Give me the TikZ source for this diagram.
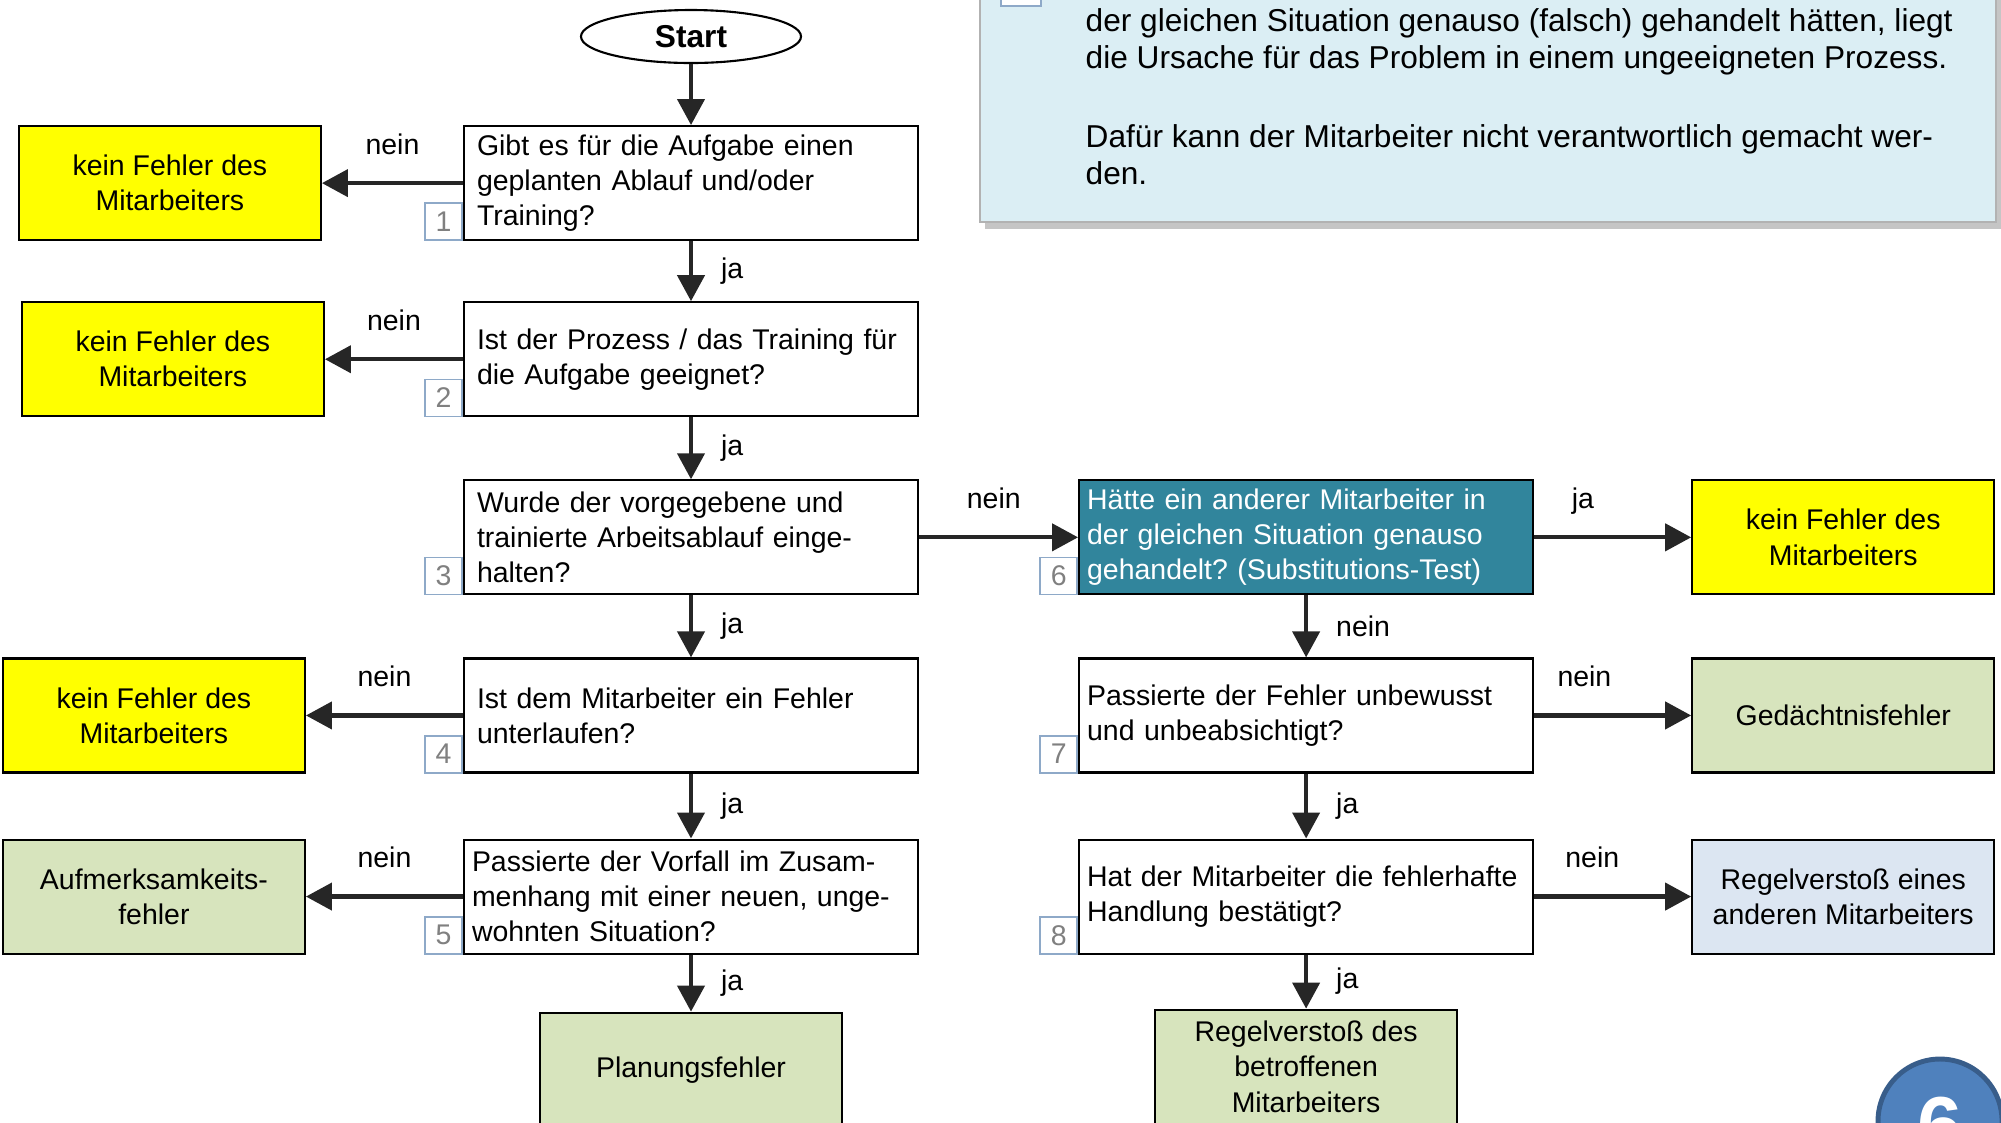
\documentclass[tikz,border=0pt]{standalone}
\usepackage{fontspec}
\setmainfont{Liberation Sans}
\usepackage{tikz}
\usetikzlibrary{shapes, arrows.meta, positioning, shadows}
\definecolor{kfyellow}{HTML}{FFFF00}
\definecolor{errgreen}{HTML}{D7E4BD}
\definecolor{errblue}{HTML}{DCE6F2}
\definecolor{subteal}{HTML}{31859C}
\definecolor{infoblue}{HTML}{DBEEF4}
\definecolor{numblue}{HTML}{8EA9C8}
\definecolor{arrgray}{HTML}{262626}
\definecolor{discblue}{HTML}{4F81BD}
\definecolor{discrim}{HTML}{385D8A}
\frenchspacing
\newcommand{\flowfont}{\fontsize{8.1}{10}\selectfont}
\tikzset{
    node distance = 0.61 cm and 1.41 cm, % gap between the questions and from a question to its result
    every node/.style = {font=\flowfont},
    startnode/.style = {ellipse, draw, line width=0.6pt, minimum width=2.2cm, minimum height=0.53cm, inner sep=0pt, font=\fontsize{9}{10}\selectfont\bfseries},
    quest/.style = {rectangle, draw, line width=0.6pt, fill=white, minimum width=4.54cm, minimum height=1.14cm, text width=4.28cm, inner xsep=0.13cm, inner ysep=0.04cm, align=left}, % the question boxes of the main column
    questb/.style = {quest, text width=4.38cm, inner xsep=0.08cm},
    result/.style = {rectangle, draw, line width=0.6pt, minimum width=3.02cm, minimum height=1.14cm, inner ysep=0.04cm, align=center},
    numbox/.style = {rectangle, draw=numblue, line width=0.5pt, fill=white, minimum size=0.37cm, inner sep=0pt, text=black!50, anchor=south east},
    flow/.style = {draw=arrgray, line width=1.2pt, -{Triangle[length=0.26cm, width=0.27cm]}},
    lblside/.style = {midway, right=0.28cm, inner sep=0pt},
    lbltop/.style = {pos=0.5, anchor=base, yshift=0.29cm, inner sep=0pt}
}
\begin{document}
\begin{tikzpicture}
    \useasboundingbox (0,0) rectangle (20.01,-11.22);
    \clip (0,0) rectangle (20.01,-11.22);
    % info box in the upper right corner
    \draw[fill=infoblue, draw=black!30, line width=0.8pt, drop shadow={shadow xshift=0.05cm, shadow yshift=-0.07cm, fill=black!45}] (9.80,0.40) rectangle (19.96,-2.22);
    \draw[draw=numblue, fill=white, line width=0.5pt] (10.01,0.40) rectangle (10.41,-0.06);
    \node[anchor=base west, align=left, inner sep=0pt, font=\fontsize{9}{10.5}\selectfont] (info) at (10.85,-1.84) {der gleichen Situation genauso (falsch) gehandelt hätten, liegt\\die Ursache für das Problem in einem ungeeigneten Prozess.\\[12pt]Dafür kann der Mitarbeiter nicht verantwortlich gemacht wer-\\den.};
    % main column
    \node[startnode] (start) at (6.91,-0.365) {Start};
    \node[quest] (q1) [below=0.61cm of start] {Gibt es für die Aufgabe einen\\geplanten Ablauf und/oder\\Training?};
    \node[quest] (q2) [below=0.60cm of q1] {Ist der Prozess / das Training für\\die Aufgabe geeignet?};
    \node[quest] (q3) [below=0.62cm of q2] {Wurde der vorgegebene und\\trainierte Arbeitsablauf einge-\\halten?};
    \node[quest] (q4) [below=0.62cm of q3] {Ist dem Mitarbeiter ein Fehler\\unterlaufen?};
    \node[questb] (q5) [below=0.65cm of q4] {Passierte der Vorfall im Zusam-\\menhang mit einer neuen, unge-\\wohnten Situation?};
    \node[result, fill=errgreen] (plan) [below=0.57cm of q5] {Planungsfehler};
    % results on the left
    \node[result, fill=kfyellow] (k1) [left=1.41cm of q1] {kein Fehler des\\Mitarbeiters};
    \node[result, fill=kfyellow] (k2) [left=1.38cm of q2] {kein Fehler des\\Mitarbeiters};
    \node[result, fill=kfyellow] (k4) [left=1.57cm of q4] {kein Fehler des\\Mitarbeiters};
    \node[result, fill=errgreen] (a5) [left=1.57cm of q5] {Aufmerksamkeits-\\fehler};
    % second column
    \node[questb, fill=subteal, text=white] (q6) [right=1.59cm of q3] {Hätte ein anderer Mitarbeiter in\\der gleichen Situation genauso\\gehandelt? (Substitutions-Test)};
    \node[questb] (q7) [below=0.62cm of q6] {Passierte der Fehler unbewusst\\und unbeabsichtigt?};
    \node[questb] (q8) [below=0.65cm of q7] {Hat der Mitarbeiter die fehlerhafte\\Handlung bestätigt?};
    \node[result, fill=errgreen] (r8) [below=0.54cm of q8] {Regelverstoß des\\betroffenen\\Mitarbeiters};
    % results on the right
    \node[result, fill=kfyellow] (k6) [right=1.57cm of q6] {kein Fehler des\\Mitarbeiters};
    \node[result, fill=errgreen] (g7) [right=1.57cm of q7] {Gedächtnisfehler};
    \node[result, fill=errblue] (r7) [right=1.57cm of q8] {Regelverstoß eines\\anderen Mitarbeiters};
    % step numbers
    \node[numbox] (n1) at (q1.south west) {1};
    \node[numbox] (n2) at (q2.south west) {2};
    \node[numbox] (n3) at (q3.south west) {3};
    \node[numbox] (n4) at (q4.south west) {4};
    \node[numbox] (n5) at (q5.south west) {5};
    \node[numbox] (n6) at (q6.south west) {6};
    \node[numbox] (n7) at (q7.south west) {7};
    \node[numbox] (n8) at (q8.south west) {8};
    % connectors
    \path (start) edge[flow] (q1);
    \path (q1) edge[flow] node[lblside] {ja} (q2);
    \path (q2) edge[flow] node[lblside] {ja} (q3);
    \path (q3) edge[flow] node[lblside] {ja} (q4);
    \path (q4) edge[flow] node[lblside] {ja} (q5);
    \path (q5) edge[flow] node[lblside] {ja} (plan);
    \path (q1) edge[flow] node[lbltop] {nein} (k1);
    \path (q2) edge[flow] node[lbltop] {nein} (k2);
    \path (q4) edge[flow] node[lbltop] {nein} (k4);
    \path (q5) edge[flow] node[lbltop] {nein} (a5);
    \path (q3) edge[flow] node[lbltop, pos=0.47] {nein} (q6);
    \path (q6) edge[flow] node[lbltop, pos=0.31] {ja} (k6);
    \path (q7) edge[flow] node[lbltop, pos=0.32] {nein} (g7);
    \path (q8) edge[flow] node[lbltop, pos=0.37] {nein} (r7);
    \path (q6) edge[flow] node[lblside] {nein} (q7);
    \path (q7) edge[flow] node[lblside] {ja} (q8);
    \path (q8) edge[flow] node[lblside] {ja} (r8);
    % chapter disc
    \draw[fill=discblue, draw=discrim, line width=1.4pt] (19.40,-11.21) circle (0.62);
    \node[text=white, font=\fontsize{23}{23}\selectfont\bfseries] (six) at (19.40,-11.26) {6};
\end{tikzpicture}
\end{document}
